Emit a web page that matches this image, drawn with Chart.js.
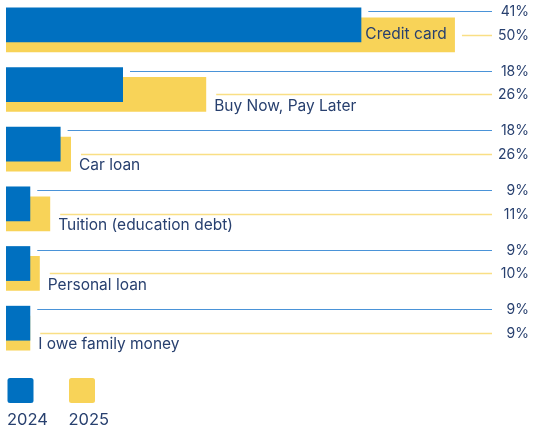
<!DOCTYPE html>
<html>
<head>
<meta charset="utf-8">
<script src="https://cdn.jsdelivr.net/npm/chart.js@4.4.1/dist/chart.umd.min.js"></script>
<style>
  html, body { margin: 0; padding: 0; background: #fff; }
  canvas { display: block; }
</style>
</head>
<body>
<canvas id="debtChart" width="541" height="433"></canvas>
<script>
const categories = [
    'Credit card',
    'Buy Now, Pay Later',
    'Car loan',
    'Tuition (education debt)',
    'Personal loan',
    'I owe family money'
];
const years = ['2024', '2025'];

// printed shares on the right
const pct2024 = [41, 18, 18, 9, 9, 9];
const pct2025 = [50, 26, 26, 11, 10, 9];

// bar lengths as drawn in the original (they are not to scale with the printed numbers)
const bars2024 = [41, 13.5, 6.3, 2.8, 2.8, 2.8];
const bars2025 = [51.8, 23.1, 7.5, 5.1, 3.9, 2.8];

const BLUE = '#0070c0';
const YELLOW = '#f8d358';
const NAVY = '#28406f';
const FONT = 'Inter, "Noto Sans", sans-serif';

// thin leader lines, category names and the % figures
const connectors = {
    id: 'connectors',
    afterDatasetsDraw(chart) {
        const ctx = chart.ctx;
        const blue = chart.getDatasetMeta(0).data;
        const yellow = chart.getDatasetMeta(1).data;
        const lineEnd = 492;
        const textRight = 529;

        ctx.save();
        categories.forEach((name, i) => {
            const b = blue[i];
            const y = yellow[i];
            const blueLineY = Math.round(b.y - b.height / 2 + 3.4) + 0.5;
            const yellowLineY = Math.round(y.y) + 0.5;

            ctx.font = '15.5px ' + FONT;
            const w = ctx.measureText(name).width;
            const inside = (y.x - b.x) > w + 4;

            let labelX, labelY, yellowStart;
            if (inside) {
                labelX = b.x + 4;
                labelY = y.y;
                yellowStart = y.x + 7;
            } else {
                labelX = y.x + 8;
                labelY = y.y + y.height / 2 - 6;
                yellowStart = labelX + 2;
            }

            ctx.lineWidth = 1;
            ctx.strokeStyle = '#4a93d8';
            ctx.beginPath();
            ctx.moveTo(b.x + 7, blueLineY);
            ctx.lineTo(lineEnd, blueLineY);
            ctx.stroke();

            ctx.lineWidth = 1.5;
            ctx.strokeStyle = '#f9df85';
            ctx.beginPath();
            ctx.moveTo(yellowStart, yellowLineY);
            ctx.lineTo(lineEnd, yellowLineY);
            ctx.stroke();

            ctx.fillStyle = NAVY;
            ctx.textBaseline = 'middle';
            ctx.textAlign = 'left';
            ctx.fillText(name, labelX, labelY);

            ctx.font = '14px ' + FONT;
            ctx.textAlign = 'right';
            ctx.fillText(pct2024[i] + '%', textRight, blueLineY + 0.5);
            ctx.fillText(pct2025[i] + '%', textRight, yellowLineY);
        });
        ctx.restore();
    }
};

// legend: squares with the year underneath
const yearLegend = {
    id: 'yearLegend',
    afterDraw(chart) {
        const ctx = chart.ctx;
        ctx.save();
        chart.data.datasets.forEach((ds, i) => {
            const x = 7.5 + i * 61.5;
            ctx.fillStyle = ds.backgroundColor;
            ctx.beginPath();
            ctx.roundRect(x, 378, 26, 25, 2.5);
            ctx.fill();

            ctx.fillStyle = NAVY;
            ctx.font = '16.5px ' + FONT;
            ctx.textBaseline = 'middle';
            ctx.textAlign = 'left';
            ctx.fillText(ds.label, x - 0.5, 420);
        });
        ctx.restore();
    }
};

const myChart = document.getElementById('debtChart').getContext('2d');

const graph = new Chart(myChart, {
    type: 'bar',
    data: {
        labels: categories,
        datasets: [{
            label: years[0],
            data: bars2024,
            backgroundColor: BLUE,
            borderWidth: 0,
            categoryPercentage: 0.333,
            barPercentage: 3.5
        }, {
            label: years[1],
            data: bars2025,
            backgroundColor: YELLOW,
            borderWidth: 0,
            categoryPercentage: 0.333,
            barPercentage: 3.5
        }]
    },
    options: {
        indexAxis: 'y',
        responsive: false,
        animation: false,
        layout: {
            padding: { left: 6, top: 0, right: 15, bottom: 75 }
        },
        scales: {
            x: { display: false, min: 0, max: 60 },
            y: { display: false }
        },
        plugins: {
            legend: { display: false },
            tooltip: { enabled: false }
        }
    },
    plugins: [connectors, yearLegend]
});
</script>
</body>
</html>
